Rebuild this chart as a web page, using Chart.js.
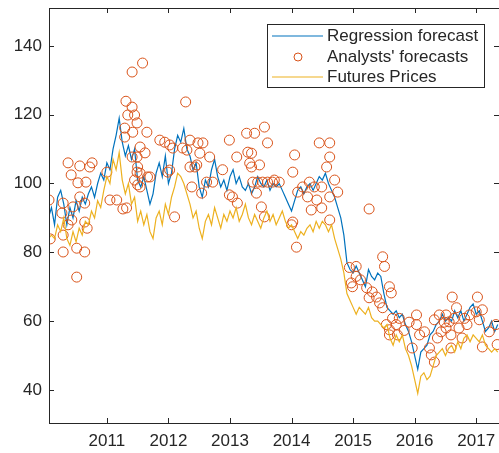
<!DOCTYPE html>
<html>
<head>
<meta charset="utf-8">
<script src="https://cdn.jsdelivr.net/npm/chart.js@4.4.1/dist/chart.umd.min.js"></script>
<style>
  html, body { margin: 0; padding: 0; background: #fff; overflow: hidden; }
  #wrap { width: 499px; height: 453px; overflow: hidden; }
  canvas { display: block; }
</style>
</head>
<body>
<div id="wrap"><canvas id="chart" width="505" height="453"></canvas></div>
<script>
// weekly-ish series, sampled every 0.05 yr from 2010.05
const lineStart = 2010.05;
const lineStep = 0.05;

const regressionValues = [
    90, 93, 88, 96, 98, 94, 88, 93, 90, 95, 92, 96, 94, 97, 99, 96, 100, 103, 101,
    106, 104, 110, 114, 119, 112, 108, 111, 107, 110, 101, 99, 102, 98, 94, 97, 103, 106, 102, 108,
    100, 103, 110, 114, 112, 116, 110, 108, 104, 106, 99, 96, 101, 99, 104, 107, 102, 99, 101, 98,
    102, 104, 100, 102, 99, 98, 100, 97, 99, 102, 100, 99, 101, 98, 100, 99, 100, 98, 96, 94,
    92, 95, 98, 99, 97, 99, 100, 98, 100, 102, 101, 103, 100, 98, 96, 93, 90, 85, 77, 75,
    74, 76, 74, 72, 70, 75, 73, 72, 74, 73, 68, 64, 63, 62, 63, 61, 62, 59, 57, 54,
    50, 46, 51, 52, 53, 56, 57, 59, 60, 62, 60, 61, 60, 63, 61, 63, 60, 62, 64, 65,
    62, 63, 60, 57, 58, 60, 57, 59
];

const futuresValues = [
    84, 85, 84, 88, 86, 90, 84, 82, 86, 83, 87, 85, 89, 88, 92, 90, 95, 93, 98,
    102, 100, 107, 104, 109, 101, 97, 100, 94, 96, 89, 92, 88, 91, 86, 84, 90, 92, 88, 94,
    91, 96, 99, 103, 102, 100, 97, 94, 90, 92, 87, 84, 89, 91, 88, 93, 90, 87, 91, 89,
    92, 90, 93, 89, 91, 94, 90, 88, 91, 89, 87, 90, 92, 89, 91, 88, 90, 92, 89, 87,
    88, 86, 84, 86, 85, 87, 88, 86, 89, 87, 89, 88, 86, 88, 84, 81, 78, 74, 68, 66,
    64, 62, 64, 63, 62, 64, 61, 60, 60, 59, 58, 59, 55, 53, 56, 54, 56, 52, 50, 47,
    43, 39, 44, 45, 43, 44, 47, 50, 51, 52, 50, 52, 53, 51, 54, 52, 55, 56, 54, 56,
    55, 54, 56, 53, 52, 51, 52, 51
];

const analystYears = [
    2010.06, 2010.08, 2010.29, 2010.29, 2010.29, 2010.27, 2010.37, 2010.42, 2010.37, 2010.45,
    2010.43, 2010.51, 2010.51, 2010.56, 2010.53, 2010.56, 2010.64, 2010.64, 2010.66, 2010.64,
    2010.68, 2010.76, 2010.72, 2011.00, 2011.05, 2011.16, 2011.26, 2011.41, 2011.58, 2011.31,
    2011.34, 2011.41, 2011.45, 2011.49, 2011.29, 2011.42, 2011.65, 2011.54, 2011.62, 2011.50,
    2011.54, 2011.66, 2011.50, 2011.49, 2011.41, 2011.29, 2012.28, 2011.86, 2011.94, 2012.02,
    2012.07, 2011.99, 2012.10, 2012.23, 2012.30, 2012.35, 2012.48, 2012.56, 2012.51, 2012.67,
    2012.35, 2012.43, 2012.54, 2012.62, 2012.72, 2012.99, 2013.11, 2013.29, 2013.27, 2013.04,
    2013.12, 2012.99, 2011.32, 2011.49, 2011.45, 2011.54, 2011.70, 2012.02, 2012.46, 2012.38,
    2013.40, 2013.56, 2013.61, 2013.35, 2013.48, 2013.35, 2013.32, 2014.45, 2014.62, 2014.62,
    2014.57, 2014.05, 2014.02, 2013.37, 2013.45, 2013.53, 2013.61, 2013.69, 2013.43, 2013.51,
    2013.56, 2014.10, 2014.29, 2014.18, 2014.37, 2014.49, 2014.26, 2014.41, 2014.49, 2014.32,
    2014.02, 2014.62, 2014.70, 2014.75, 2014.62, 2015.26, 2014.08, 2014.00,
    2014.94, 2015.05, 2015.05, 2014.97, 2014.99, 2015.48, 2015.51, 2015.22, 2015.31, 2015.38,
    2015.26, 2015.43, 2015.59, 2015.62, 2015.48, 2015.54, 2015.59, 2015.70, 2015.59, 2015.72,
    2016.03, 2016.03, 2016.08, 2015.96, 2016.24, 2016.27, 2016.32, 2016.37, 2016.32, 2016.40,
    2016.51, 2016.56, 2016.51, 2016.59, 2016.61, 2016.68, 2016.72, 2016.59, 2016.77, 2016.85,
    2017.02, 2017.00, 2017.05, 2017.10, 2017.21, 2017.32, 2017.34, 2017.10, 2016.43, 2016.16,
    2015.64, 2015.75, 2015.83, 2015.91, 2016.48, 2016.64, 2016.81, 2016.89,
    2013.72, 2013.80, 2012.88, 2015.12
];

const analystValues = [
    95.2, 83.9, 85.0, 80.1, 94.3, 91.4, 106.0, 102.5, 88.0, 93.2,
    89.4, 81.2, 72.8, 105.1, 100.2, 96.1, 80.1, 94.3, 100.4, 88.8,
    87.0, 106.0, 104.8, 103.3, 95.2, 95.2, 92.6, 132.4, 135.0, 123.9,
    119.9, 122.2, 119.9, 117.6, 113.5, 114.9, 114.9, 110.6, 108.9, 104.8,
    103.0, 101.9, 99.6, 107.7, 107.7, 116.1, 123.7, 112.6, 112.0, 111.2,
    110.3, 103.3, 90.3, 110.3, 109.7, 112.6, 111.8, 111.8, 108.8, 107.7,
    104.8, 104.8, 97.2, 100.4, 100.4, 112.6, 107.7, 109.1, 114.6, 96.1,
    94.3, 96.7, 92.9, 103.3, 101.0, 99.0, 101.9, 103.9, 105.4, 99.0,
    114.6, 116.4, 111.8, 108.8, 105.4, 104.8, 105.9, 111.8, 111.8, 107.7,
    104.8, 108.3, 103.3, 100.4, 100.4, 100.4, 100.4, 100.4, 97.2, 93.2,
    90.3, 97.5, 100.4, 99.0, 99.0, 99.0, 96.1, 95.2, 92.9, 92.3,
    88.8, 96.1, 101.0, 97.5, 89.4, 92.6, 81.5, 88.0,
    75.6, 75.9, 73.0, 71.1, 70.0, 78.7, 75.9, 69.7, 68.5, 67.0,
    66.8, 65.3, 70.0, 68.2, 63.9, 59.0, 57.5, 59.0, 56.0, 56.0,
    61.8, 59.0, 56.0, 52.2, 52.2, 50.2, 48.1, 55.1, 60.4, 61.8,
    61.8, 59.8, 58.0, 56.0, 67.0, 63.9, 58.0, 52.2, 55.1, 59.0,
    67.0, 62.7, 60.4, 52.5, 56.9, 59.0, 53.2, 63.3, 56.9, 56.9,
    60.8, 60.8, 57.3, 59.7, 59.7, 60.8, 60.8, 61.8,
    101.0, 100.4, 104.0, 72.0
];

const yearTicks = [2011, 2012, 2013, 2014, 2015, 2016, 2017];
const valueTicks = [40, 60, 80, 100, 120, 140];

const legendLabels = ['Regression forecast', "Analysts' forecasts", 'Futures Prices'];

const BLUE = '#0072BD';
const ORANGE = '#D95319';
const YELLOW = '#EDB120';
const AXIS = '#262626';
const FONT = '"Liberation Sans", Arial, sans-serif';

const lineYears = regressionValues.map((_, i) => +(lineStart + i * lineStep).toFixed(2));
const regressionPts = regressionValues.map((v, i) => ({ x: lineYears[i], y: v }));
const futuresPts = futuresValues.map((v, i) => ({ x: lineYears[i], y: v }));
const analystPts = analystValues.map((v, i) => ({ x: analystYears[i], y: v }));

// matlab-ish box with inward ticks + boxed legend
const framePlugin = {
    id: 'frame',
    afterDatasetsDraw(chart) {
        const { ctx, chartArea: a, scales } = chart;
        const tl = 5;
        ctx.save();
        ctx.strokeStyle = AXIS;
        ctx.lineWidth = 1;
        ctx.strokeRect(Math.round(a.left) + 0.5, Math.round(a.top) + 0.5,
            Math.round(a.right - a.left), Math.round(a.bottom - a.top));
        ctx.beginPath();
        yearTicks.forEach(t => {
            const x = Math.round(scales.x.getPixelForValue(t)) + 0.5;
            ctx.moveTo(x, a.bottom); ctx.lineTo(x, a.bottom - tl);
            ctx.moveTo(x, a.top); ctx.lineTo(x, a.top + tl);
        });
        valueTicks.forEach(t => {
            const y = Math.round(scales.y.getPixelForValue(t)) + 0.5;
            ctx.moveTo(a.left, y); ctx.lineTo(a.left + tl, y);
            ctx.moveTo(a.right, y); ctx.lineTo(a.right - tl, y);
        });
        ctx.stroke();
        ctx.restore();
    },
    afterDraw(chart) {
        const ctx = chart.ctx;
        const box = { x: 267.5, y: 24.5, w: 217, h: 63 };
        const rows = [36, 57, 77];
        ctx.save();
        ctx.fillStyle = '#fff';
        ctx.fillRect(box.x, box.y, box.w, box.h);
        ctx.strokeStyle = AXIS;
        ctx.lineWidth = 1;
        ctx.strokeRect(box.x, box.y, box.w, box.h);

        ctx.lineWidth = 1.2;
        ctx.strokeStyle = BLUE;
        ctx.beginPath(); ctx.moveTo(272, rows[0]); ctx.lineTo(323, rows[0]); ctx.stroke();
        ctx.strokeStyle = ORANGE;
        ctx.lineWidth = 1;
        ctx.beginPath(); ctx.arc(298, rows[1], 4, 0, Math.PI * 2); ctx.stroke();
        ctx.strokeStyle = YELLOW;
        ctx.lineWidth = 1.2;
        ctx.beginPath(); ctx.moveTo(272, rows[2]); ctx.lineTo(323, rows[2]); ctx.stroke();

        ctx.fillStyle = AXIS;
        ctx.font = '17px ' + FONT;
        ctx.textBaseline = 'middle';
        legendLabels.forEach((txt, i) => ctx.fillText(txt, 327, rows[i]));
        ctx.restore();
    }
};

const tickFont = { family: FONT, size: 17 };

function noOverflow(s) {
    s.paddingTop = 0;
    s.paddingBottom = 0;
    s.paddingLeft = 0;
    s.paddingRight = 0;
}

new Chart(document.getElementById('chart'), {
    type: 'line',
    data: {
        datasets: [
            {
                label: legendLabels[0],
                data: regressionPts,
                borderColor: BLUE,
                borderWidth: 1.2,
                pointRadius: 0,
                tension: 0,
                fill: false,
                order: 3
            },
            {
                label: legendLabels[1],
                data: analystPts,
                showLine: false,
                pointStyle: 'circle',
                pointRadius: 5,
                pointBorderWidth: 1,
                borderColor: ORANGE,
                pointBorderColor: ORANGE,
                pointBackgroundColor: 'rgba(0,0,0,0)',
                order: 2
            },
            {
                label: legendLabels[2],
                data: futuresPts,
                borderColor: YELLOW,
                borderWidth: 1.2,
                pointRadius: 0,
                tension: 0,
                fill: false,
                order: 1
            }
        ]
    },
    options: {
        responsive: false,
        animation: false,
        events: [],
        layout: { padding: { top: 8, right: 5, left: 0, bottom: 0 } },
        plugins: {
            legend: { display: false },
            tooltip: { enabled: false }
        },
        scales: {
            x: {
                type: 'linear',
                min: 2010.06,
                max: 2017.37,
                grid: { display: false, drawTicks: false },
                border: { display: false },
                afterBuildTicks: s => { s.ticks = yearTicks.map(v => ({ value: v })); },
                afterFit: s => { s.height = 30; noOverflow(s); },
                ticks: {
                    color: AXIS,
                    font: tickFont,
                    padding: 8,
                    maxRotation: 0,
                    autoSkip: false,
                    callback: v => String(v)
                }
            },
            y: {
                min: 30.4,
                max: 151,
                grid: { display: false, drawTicks: false },
                border: { display: false },
                afterBuildTicks: s => { s.ticks = valueTicks.map(v => ({ value: v })); },
                afterFit: s => { s.width = 49; noOverflow(s); },
                ticks: {
                    color: AXIS,
                    font: tickFont,
                    padding: 7,
                    autoSkip: false,
                    callback: v => String(v)
                }
            }
        }
    },
    plugins: [framePlugin]
});
</script>
</body>
</html>
